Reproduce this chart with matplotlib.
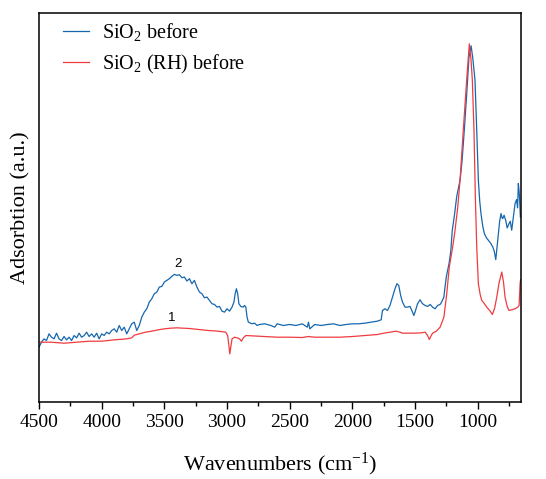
import numpy as np
import matplotlib
matplotlib.use('Agg')
import matplotlib.pyplot as plt
from matplotlib.ticker import MultipleLocator

# FTIR spectra (absorbance, arbitrary units)
wn_sio2 = [4500, 4480, 4460, 4440, 4420, 4400, 4380, 4360, 4340, 4320, 4300, 4280,
           4260, 4240, 4220, 4200, 4180, 4160, 4140, 4120, 4100, 4080, 4060, 4040,
           4020, 4000, 3980, 3960, 3940, 3920, 3900, 3880, 3860, 3840, 3820, 3800,
           3780, 3760, 3740, 3720, 3700, 3680, 3660, 3640, 3620, 3600, 3580, 3560,
           3540, 3520, 3500, 3480, 3460, 3440, 3420, 3400, 3380, 3360, 3340, 3320,
           3300, 3280, 3260, 3240, 3220, 3200, 3180, 3160, 3140, 3120, 3100, 3080,
           3060, 3040, 3020, 3000, 2980, 2960, 2945, 2935, 2925, 2915, 2905, 2890,
           2870, 2860, 2850, 2840, 2830, 2800, 2780, 2760, 2740, 2700, 2650, 2620,
           2600, 2550, 2500, 2450, 2400, 2360, 2350, 2340, 2300, 2250, 2200, 2150,
           2100, 2050, 2000, 1950, 1900, 1850, 1800, 1770, 1760, 1740, 1720, 1700,
           1680, 1660, 1645, 1630, 1615, 1600, 1580, 1560, 1540, 1520, 1510, 1500,
           1480, 1460, 1440, 1420, 1400, 1380, 1360, 1340, 1320, 1300, 1288, 1270,
           1261, 1250, 1234, 1229, 1215, 1203, 1185, 1168, 1141, 1125, 1107, 1088,
           1070, 1053, 1040, 1022, 1008, 995, 984, 974, 960, 947, 930, 915,
           898, 880, 868, 856, 848, 840, 825, 814, 806, 800, 790, 777,
           765, 750, 740, 729, 715, 702, 690, 682, 676, 670, 665, 660]
abs_sio2 = [16.3, 17.8, 18.8, 18.3, 20.3, 19.3, 18.8, 20.5, 18.8, 18.3, 19.5, 18.5,
            19.3, 18.3, 19.8, 19.1, 20.5, 19.3, 19.8, 20.8, 19.5, 20.3, 19.3, 20.5,
            18.8, 20.3, 19.8, 20.8, 20.3, 21.3, 21.8, 20.8, 22.8, 21.3, 22.3, 20.3,
            21.8, 23.3, 23.8, 21.3, 22.8, 25.3, 26.8, 27.8, 29.8, 30.8, 32.3, 32.8,
            34.3, 34.5, 35.8, 36.3, 36.8, 37.5, 38.1, 37.8, 38.0, 37.1, 37.3, 36.1,
            36.8, 35.3, 36.3, 34.3, 32.8, 32.3, 31.1, 31.3, 30.3, 29.3, 29.1, 28.3,
            28.5, 27.1, 26.8, 27.8, 27.1, 28.3, 29.8, 32.3, 33.8, 32.3, 29.3, 28.5,
            28.3, 28.8, 28.3, 25.3, 23.8, 23.3, 23.5, 22.8, 23.1, 23.3, 22.8, 22.3,
            23.3, 22.8, 23.1, 22.8, 23.3, 22.3, 23.8, 21.8, 23.1, 22.8, 23.1, 23.3,
            22.8, 23.1, 23.3, 23.3, 23.5, 23.8, 24.1, 24.5, 27.3, 27.8, 27.3, 28.8,
            31.3, 33.8, 35.3, 34.8, 31.8, 29.8, 28.3, 28.3, 28.5, 26.8, 25.8, 26.8,
            29.3, 30.5, 29.3, 28.8, 28.5, 29.1, 28.3, 27.8, 28.8, 29.1, 29.8, 31.3,
            34.3, 37.5, 40.3, 41.3, 45.0, 51.3, 56.0, 61.3, 66.3, 72.0, 81.3, 92.0,
            103.0, 106.5, 103.0, 96.3, 81.3, 66.3, 60.0, 56.3, 52.5, 50.3, 49.0, 48.3,
            47.5, 46.3, 45.0, 42.5, 45.5, 48.5, 54.0, 56.3, 55.0, 54.8, 55.8, 54.3,
            52.0, 53.3, 54.0, 51.3, 55.5, 59.3, 60.5, 58.0, 65.3, 63.0, 60.0, 55.3]

wn_rh = [4500, 4400, 4300, 4200, 4100, 4000, 3900, 3800, 3760, 3740, 3700, 3650,
         3600, 3550, 3500, 3450, 3400, 3350, 3300, 3250, 3200, 3150, 3100, 3050,
         3010, 2995, 2985, 2978, 2970, 2960, 2940, 2920, 2900, 2885, 2870, 2850,
         2800, 2700, 2600, 2500, 2400, 2350, 2300, 2200, 2100, 2000, 1900, 1800,
         1750, 1700, 1650, 1620, 1600, 1500, 1450, 1420, 1400, 1386, 1375, 1360,
         1330, 1300, 1270, 1247, 1227, 1210, 1195, 1181, 1160, 1141, 1115, 1088,
         1067, 1055, 1043, 1030, 1019, 1008, 995, 980, 968, 950, 928, 905,
         883, 865, 848, 830, 808, 795, 782, 765, 750, 730, 702, 680,
         670, 662, 658]
abs_rh = [17.8, 17.8, 17.5, 17.8, 18.1, 18.1, 18.5, 18.8, 19.1, 19.9, 20.3, 20.8,
          21.1, 21.5, 21.8, 22.0, 22.1, 22.0, 21.9, 21.7, 21.5, 21.3, 21.2, 21.0,
          20.8, 19.8, 16.8, 14.3, 16.3, 18.8, 19.3, 19.1, 18.8, 18.1, 19.1, 19.8,
          19.7, 19.5, 19.3, 19.3, 19.2, 19.5, 19.3, 19.3, 19.3, 19.5, 19.8, 20.1,
          20.5, 20.8, 21.1, 20.8, 20.5, 20.5, 20.6, 20.8, 19.8, 18.6, 19.5, 20.5,
          21.1, 22.3, 25.3, 32.3, 40.3, 44.0, 47.5, 51.3, 58.0, 66.3, 81.3, 96.3,
          107.1, 103.0, 96.3, 81.3, 61.3, 46.3, 35.3, 32.0, 30.3, 29.5, 28.3, 27.3,
          26.1, 28.0, 31.3, 35.5, 38.8, 36.0, 31.3, 28.5, 27.3, 27.5, 27.8, 28.3,
          28.8, 35.3, 36.5]

labels = ['SiO$_2$ before', 'SiO$_2$ (RH) before']
colors = ['#1667ad', '#ef3b40']
peak_marks = [('2', 3390, 41.1), ('1', 3443, 25.1)]

plt.rcParams['font.family'] = ['Liberation Serif', 'DejaVu Serif']
plt.rcParams['mathtext.fontset'] = 'custom'
plt.rcParams['mathtext.rm'] = 'Liberation Serif'
plt.rcParams['mathtext.it'] = 'Liberation Serif:italic'

fig = plt.figure(figsize=(5.46, 4.79), dpi=100)
ax = fig.add_axes([0.0714, 0.1614, 0.8823, 0.8121])

ax.plot(wn_sio2, abs_sio2, color=colors[0], lw=0.9, label=labels[0])
ax.plot(wn_rh, abs_rh, color=colors[1], lw=0.9, label=labels[1])

for txt, xw, yv in peak_marks:
    ax.text(xw, yv, txt, ha='center', va='center', fontsize=9.5,
            family='Liberation Sans')

ax.set_xlim(4500, 657)
ax.set_ylim(0, 116.4)
ax.xaxis.set_major_locator(MultipleLocator(500))
ax.xaxis.set_minor_locator(MultipleLocator(250))
ax.tick_params(axis='x', which='major', direction='out', length=5, width=1,
               labelsize=14, pad=4)
ax.tick_params(axis='x', which='minor', direction='out', length=3, width=1)
ax.set_yticks([])
for s in ax.spines.values():
    s.set_linewidth(1.1)

ax.set_xlabel('Wavenumbers (cm$^{-1}$)', fontsize=16, labelpad=14)
ax.set_ylabel('Adsorbtion (a.u.)', fontsize=16, labelpad=6)

ax.legend(loc='upper left', frameon=False, fontsize=14.5, handlelength=1.3,
          handletextpad=0.65, labelspacing=0.5, borderaxespad=0.3,
          bbox_to_anchor=(0.02, 1.015))

fig.savefig('out.png', dpi=100)
